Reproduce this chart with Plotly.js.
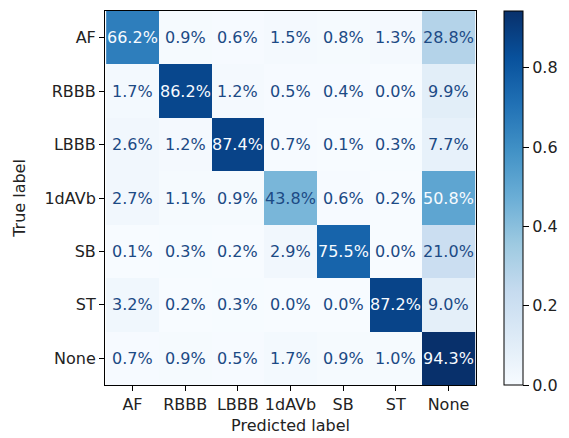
<!DOCTYPE html>
<html>
<head>
<meta charset="utf-8">
<script src="https://cdn.plot.ly/plotly-3.0.1.min.js"></script>
<style>html,body{margin:0;padding:0;background:#fff;}#chart{width:569px;height:438px;}</style>
</head>
<body>
<div id="chart"></div>
<script>
const labels = ["AF", "RBBB", "LBBB", "1dAVb", "SB", "ST", "None"];
const rowAF    = [66.2, 0.9, 0.6, 1.5, 0.8, 1.3, 28.8];
const rowRBBB  = [1.7, 86.2, 1.2, 0.5, 0.4, 0.0, 9.9];
const rowLBBB  = [2.6, 1.2, 87.4, 0.7, 0.1, 0.3, 7.7];
const row1dAVb = [2.7, 1.1, 0.9, 43.8, 0.6, 0.2, 50.8];
const rowSB    = [0.1, 0.3, 0.2, 2.9, 75.5, 0.0, 21.0];
const rowST    = [3.2, 0.2, 0.3, 0.0, 0.0, 87.2, 9.0];
const rowNone  = [0.7, 0.9, 0.5, 1.7, 0.9, 1.0, 94.3];
const colorbarTicks = [0.0, 0.2, 0.4, 0.6, 0.8];

const rows = [rowAF, rowRBBB, rowLBBB, row1dAVb, rowSB, rowST, rowNone];
const z = rows.map(r => r.map(v => v / 100));
let zmax = 0, zmin = 1;
z.forEach(r => r.forEach(v => { zmax = Math.max(zmax, v); zmin = Math.min(zmin, v); }));
const thresh = (zmax + zmin) / 2;

const blues = [
  [0.0, '#f7fbff'], [0.125, '#deebf7'], [0.25, '#c6dbef'], [0.375, '#9ecae1'],
  [0.5, '#6baed6'], [0.625, '#4292c6'], [0.75, '#2171b5'], [0.875, '#08519c'], [1.0, '#08306b']
];

const FONT = 'DejaVu Sans';
const FS = 16;
const annotations = [];
rows.forEach((r, i) => r.forEach((v, j) => {
  annotations.push({
    x: labels[j], y: labels[i], xref: 'x', yref: 'y',
    text: v.toFixed(1) + '%', showarrow: false,
    font: {family: FONT, size: FS, color: (v / 100) > thresh ? '#f7fbff' : '#1c4a85'}
  });
}));

const trace = {
  type: 'heatmap', x: labels, y: labels, z: z,
  colorscale: blues, zmin: 0, zmax: zmax, xgap: 0, ygap: 0,
  hoverinfo: 'skip',
  colorbar: {
    x: 1.075, xanchor: 'left', xpad: 0, ypad: 0, y: 0.5, yanchor: 'middle',
    len: 1, lenmode: 'fraction', thickness: 19, thicknessmode: 'pixels',
    outlinewidth: 1, outlinecolor: '#000',
    tickvals: colorbarTicks, ticktext: colorbarTicks.map(t => t.toFixed(1)),
    ticks: 'outside', ticklen: 6, tickcolor: '#000', tickwidth: 1,
    tickfont: {family: FONT, size: FS, color: '#222'}
  }
};

const axisCommon = {
  showline: true, linecolor: '#000', linewidth: 1, mirror: true,
  ticks: 'outside', ticklen: 5, tickcolor: '#000', tickwidth: 1,
  showgrid: false, zeroline: false,
  tickfont: {family: FONT, size: FS, color: '#222'}
};

const layout = {
  width: 569, height: 438,
  margin: {l: 105, r: 89, t: 11, b: 53},
  paper_bgcolor: '#fff', plot_bgcolor: '#fff',
  showlegend: false,
  xaxis: Object.assign({}, axisCommon, {
    type: 'category', categoryorder: 'array', categoryarray: labels,
    title: {text: 'Predicted label', font: {family: FONT, size: FS, color: '#222'}, standoff: 6}
  }),
  yaxis: Object.assign({}, axisCommon, {
    type: 'category', categoryorder: 'array', categoryarray: labels, autorange: 'reversed',
    title: {text: 'True label', font: {family: FONT, size: FS, color: '#222'}, standoff: 14}
  }),
  annotations: annotations
};

Plotly.newPlot('chart', [trace], layout, {staticPlot: true, displayModeBar: false});
</script>
</body>
</html>
